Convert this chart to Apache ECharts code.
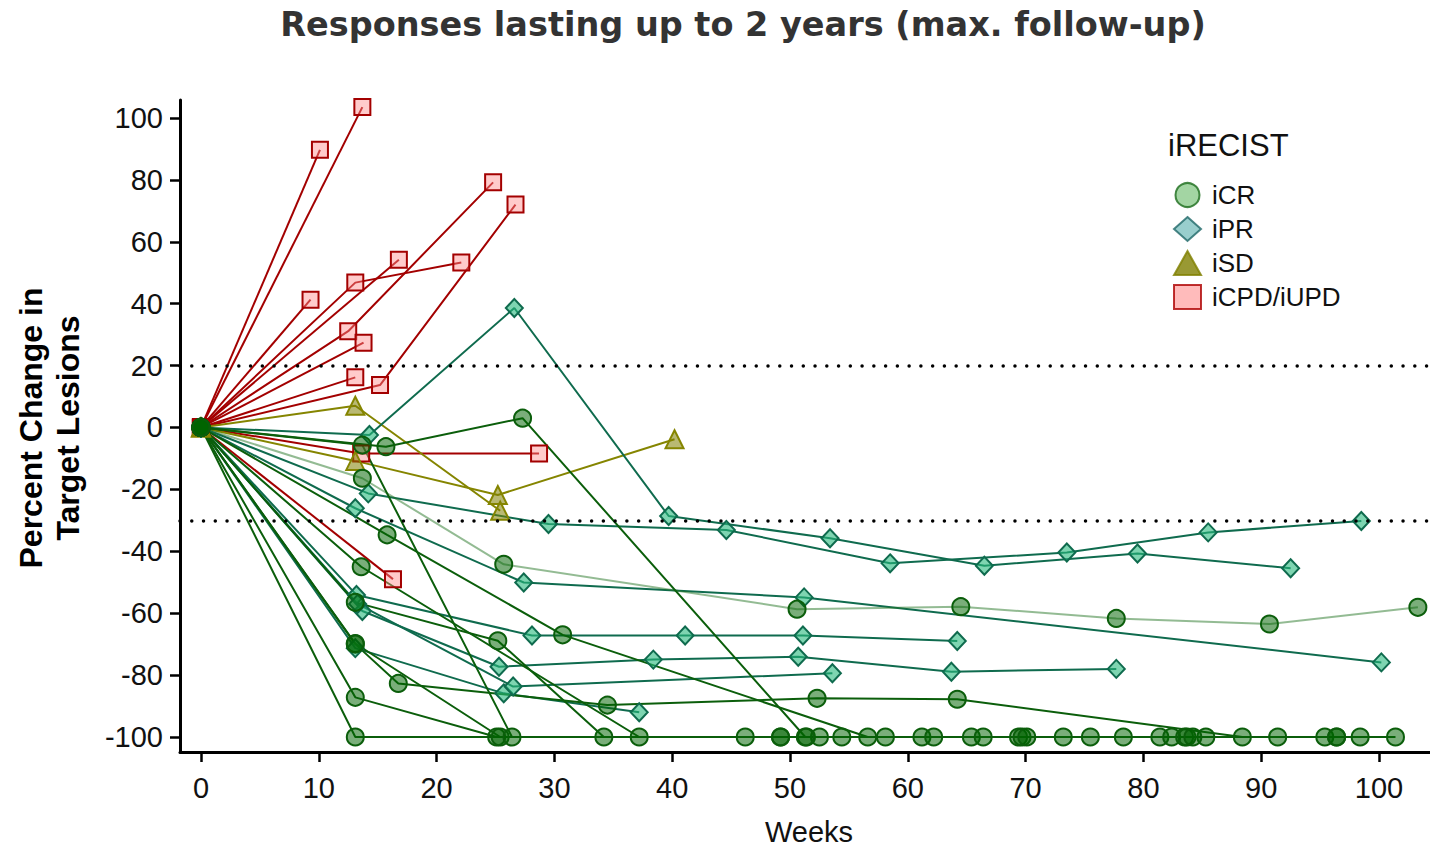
<!DOCTYPE html>
<html>
<head>
<meta charset="utf-8">
<script src="https://cdn.jsdelivr.net/npm/echarts@6/dist/echarts.min.js"></script>
<style>
html,body{margin:0;padding:0;background:#fff;}
#chart{width:1430px;height:848px;}
</style>
</head>
<body>
<div id="chart"></div>
<script>
// ---- tick labels ----
const xTicks = [0,10,20,30,40,50,60,70,80,90,100];
const yTicks = [-100,-80,-60,-40,-20,0,20,40,60,80,100];
const refLines = [20,-30];

// ---- iCPD/iUPD patients (week, % change) ----
const pd1 = [[0,0],[13.7,103.5]];
const pd2 = [[0,0],[10.1,89.7]];
const pd3 = [[0,0],[12.5,31.1],[24.8,79.2]];
const pd4 = [[0,0],[15.2,13.7],[26.7,72.0]];
const pd5 = [[0,0],[16.8,54.2]];
const pd6 = [[0,0],[13.1,46.8],[22.1,53.3]];
const pd7 = [[0,0],[9.3,41.3]];
const pd8 = [[0,0],[13.8,27.4]];
const pd9 = [[0,0],[13.1,16.2]];
const pd10 = [[0,0],[13.6,-8.4],[28.7,-8.4]];
const pd11 = [[0,0],[16.3,-49.0]];

// ---- iSD patients ----
const sd1 = [[0,0],[13.1,7.0],[25.4,-26.9]];
const sd2 = [[0,0],[13.1,-10.8],[25.2,-21.8],[40.2,-3.8]];

// ---- iPR patients ----
const pr1 = [[0,0],[14.3,-2.4],[26.6,38.6],[39.7,-28.6],[53.4,-35.8],[66.5,-44.7],[79.5,-40.7],[92.5,-45.5]];
const pr2 = [[0,0],[14.2,-21.3],[29.5,-31.2],[44.6,-33.1],[58.5,-43.9],[73.5,-40.4],[85.5,-33.9],[98.5,-30.2]];
const pr3 = [[0,0],[13.1,-26.1],[27.4,-50.1],[51.2,-54.9],[100.2,-75.9]];
const pr4 = [[0,0],[13.2,-54.1],[28.1,-67.2],[41.1,-67.2],[51.1,-67.2],[64.2,-69.0]];
const pr5 = [[0,0],[13.7,-59.3],[25.3,-77.3],[38.4,-75.0],[50.7,-74.1],[63.7,-78.9],[77.7,-78.0]];
const pr6 = [[0,0],[13.1,-71.3],[25.7,-85.9],[37.2,-92.0]];
const pr7 = [[0,0],[13.3,-57.0],[26.5,-83.7],[53.6,-79.4]];

// ---- iCR patients ----
const cr1 = [[0,0],[13.1,-100],[46.2,-100],[58.1,-100],[69.4,-100],[81.4,-100],[95.4,-100]];
const cr2 = [[0,0],[13.1,-87.2],[25.1,-100],[49.2,-100],[61.2,-100],[73.2,-100],[85.3,-100],[98.4,-100]];
const cr3 = [[0,0],[13.1,-69.8],[25.4,-100],[49.2,-100],[62.2,-100],[75.5,-100],[91.4,-100]];
const cr4 = [[0,0],[13.7,-5.7],[26.4,-100],[51.4,-100],[65.4,-100],[78.3,-100],[96.4,-100]];
const cr5 = [[0,0],[13.1,-56.5],[25.2,-68.9],[34.2,-100],[52.5,-100],[66.4,-100],[82.4,-100],[96.4,-100]];
const cr6 = [[0,0],[13.6,-45.0],[37.2,-100],[54.4,-100],[69.7,-100],[83.5,-100],[101.4,-100]];
const cr7 = [[0,0],[15.7,-6.2],[27.3,3.0],[51.3,-100],[70.1,-100],[83.7,-100]];
const cr8 = [[0,0],[15.8,-34.7],[30.7,-67.0],[56.6,-100],[84.2,-100]];
const cr9 = [[0,0],[13.1,-70.0],[16.75,-82.7],[34.5,-89.7],[52.3,-87.5],[64.2,-87.8],[88.4,-100]];
const cr10 = [[0,0],[13.7,-16.4],[25.7,-44.2],[50.6,-58.7],[64.5,-57.9],[77.7,-61.7],[90.7,-63.5],[103.3,-58.1]];

const pdPatients = [pd1,pd2,pd3,pd4,pd5,pd6,pd7,pd8,pd9,pd10,pd11];
const sdPatients = [sd1,sd2];
const prPatients = [pr1,pr2,pr3,pr4,pr5,pr6,pr7];
const crPatients = [cr1,cr2,cr3,cr4,cr5,cr6,cr7,cr8,cr9];
const crFaded = [cr10];

const FONT = '"Liberation Sans", Arial, sans-serif';

const styles = {
  pd: {symbol:'rect', size:16, line:'#a30000', fill:'rgba(255,140,140,0.45)', border:'#a30000'},
  sd: {symbol:'triangle', size:18, line:'#858500', fill:'rgba(128,128,0,0.55)', border:'#858500'},
  pr: {symbol:'diamond', size:[17,18], line:'#0f6b4e', fill:'rgba(40,185,125,0.6)', border:'#0f6b4e'},
  cr: {symbol:'circle', size:17, line:'#0b5e0b', fill:'rgba(0,100,0,0.52)', border:'#0b5e0b'},
  crf:{symbol:'circle', size:17, line:'rgba(40,120,40,0.5)', fill:'rgba(0,100,0,0.52)', border:'#0b5e0b'}
};

const series = [];
function addGroup(list, key, prefix){
  const s = styles[key];
  list.forEach((d,i)=>{
    series.push({
      name: prefix + (i+1),
      type:'line',
      data:d,
      symbol:s.symbol,
      symbolSize:s.size,
      showAllSymbol:true,
      lineStyle:{color:s.line,width:2},
      itemStyle:{color:s.fill,borderColor:s.border,borderWidth:2},
      emphasis:{disabled:true},
      silent:true
    });
  });
}
addGroup(pdPatients,'pd','pd');
addGroup(sdPatients,'sd','sd');
addGroup(prPatients,'pr','pr');
addGroup(crFaded,'crf','crf');
addGroup(crPatients,'cr','cr');

// reference lines
series.push({
  name:'ref', type:'line', data:[], silent:true,
  markLine:{
    silent:true, symbol:['none','none'], label:{show:false},
    lineStyle:{color:'#000',width:3.5,type:[0.01,11.75],cap:'round'},
    data: refLines.map(v=>({yAxis:v}))
  }
});

// legend-only series
const legendDefs = [
  {name:'iCR', icon:'circle', color:'#8cca8c', border:'#1a6b1a'},
  {name:'iPR', icon:'diamond', color:'#80c2c0', border:'#1f6868'},
  {name:'iSD', icon:'triangle', color:'#808000', border:'#808000'},
  {name:'iCPD/iUPD', icon:'rect', color:'#ffaaaa', border:'#ad0000'}
];
legendDefs.forEach(l=>{
  series.push({name:l.name,type:'scatter',data:[],itemStyle:{color:l.color,borderColor:l.border,borderWidth:2}});
});

const chart = echarts.init(document.getElementById('chart'), null, {renderer:'svg'});
chart.setOption({
  animation:false,
  backgroundColor:'#fff',
  grid:{left:180, top:100, width:1250, height:652, containLabel:false},
  xAxis:{
    type:'value', min:-1.78, max:104.33,
    axisLine:{onZero:false, lineStyle:{color:'#000',width:3}},
    axisTick:{show:true, length:10, lineStyle:{color:'#000',width:2.5}, customValues:xTicks},
    axisLabel:{customValues:xTicks, fontSize:29, color:'#111', margin:21, fontFamily:FONT},
    splitLine:{show:false}
  },
  yAxis:{
    type:'value', min:-104.85, max:105.8,
    axisLine:{show:true, onZero:false, lineStyle:{color:'#000',width:3}},
    axisTick:{show:true, length:10, lineStyle:{color:'#000',width:2.5}, customValues:yTicks},
    axisLabel:{customValues:yTicks, fontSize:29, color:'#111', margin:17, fontFamily:FONT},
    splitLine:{show:false}
  },
  legend:{
    orient:'vertical', left:1168, top:177, itemWidth:27, itemHeight:24, itemGap:8,
    selectedMode:false,
    data:legendDefs.map(l=>({name:l.name, icon:l.icon})),
    textStyle:{fontSize:26, color:'#111', fontFamily:FONT, lineHeight:26, padding:[0,0,0,6]}
  },
  graphic:[
    {type:'text', x:743, y:24, silent:true, style:{text:'Responses lasting up to 2 years (max. follow-up)', fontSize:33.5, fontWeight:'bold', fontFamily:'"DejaVu Sans", "Open Sans", sans-serif', fill:'#333', align:'center', verticalAlign:'middle'}},
    {type:'text', x:809, y:832, silent:true, style:{text:'Weeks', fontSize:29, fontFamily:FONT, fill:'#111', align:'center', verticalAlign:'middle'}},
    {type:'text', x:31, y:428, rotation:Math.PI/2, silent:true, style:{text:'Percent Change in', fontSize:32, fontWeight:'bold', fontFamily:FONT, fill:'#000', align:'center', verticalAlign:'middle'}},
    {type:'text', x:68, y:428, rotation:Math.PI/2, silent:true, style:{text:'Target Lesions', fontSize:32, fontWeight:'bold', fontFamily:FONT, fill:'#000', align:'center', verticalAlign:'middle'}},
    {type:'text', x:1168, y:145, silent:true, style:{text:'iRECIST', fontSize:31, fontFamily:FONT, fill:'#111', align:'left', verticalAlign:'middle'}}
  ],
  series:series
});
</script>
</body>
</html>
